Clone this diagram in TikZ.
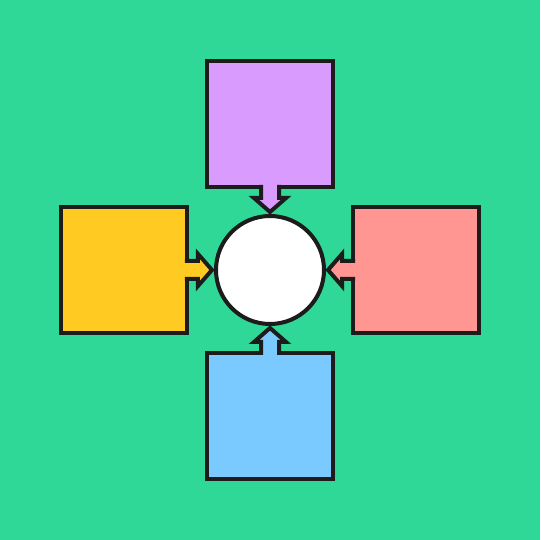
\documentclass[tikz,border=0pt]{standalone}
\usetikzlibrary{calc}
\definecolor{meadow}{RGB}{47,216,151}
\definecolor{lilac}{RGB}{218,155,255}
\definecolor{sunflower}{RGB}{255,203,34}
\definecolor{salmon}{RGB}{255,150,145}
\definecolor{sky}{RGB}{122,202,255}
\definecolor{ink}{RGB}{28,28,28}
\newcommand\DrawArrow[3]{
	\coordinate (s) at ($(#1)!-2pt!(#2)$);
	\coordinate (h) at ($(#2)!18pt!(#1)$);
	\filldraw [arrowline, fill=#3]
		($(s)!9pt!90:(#2)$) -- ($(h)!9pt!90:(#2)$) -- ($(h)!16pt!90:(#2)$)
		-- ($(#2)!4pt!(#1)$)
		-- ($(h)!16pt!-90:(#2)$) -- ($(h)!9pt!-90:(#2)$) -- ($(s)!9pt!-90:(#2)$);
}
\newcommand*{\boxSize}{126pt}
\newcommand*{\boxDist}{146}

\begin{document}
\begin{tikzpicture}[x=1pt, y=1pt,
	every node/.style={draw=ink, line width=4pt, outer sep=0pt, inner sep=0pt},
	box/.style={minimum size=\boxSize},
	arrowline/.style={draw=ink, line width=4pt, line join=miter}]
	\fill [meadow] (-270,-270) rectangle (270,270);
	\node [circle, minimum size=108pt, fill=white] (hub) at (0,0) {};
	\node [box, fill=lilac] (boxTop) at (0,\boxDist) {};
	\node [box, fill=sunflower] (boxLeft) at (-\boxDist,0) {};
	\node [box, fill=salmon] (boxRight) at (\boxDist,0) {};
	\node [box, fill=sky] (boxBottom) at (0,-\boxDist) {};
	\foreach \f/\t/\c in {boxTop.south/hub.north/lilac, boxLeft.east/hub.west/sunflower,
		boxRight.west/hub.east/salmon, boxBottom.north/hub.south/sky}
	{
		\DrawArrow{\f}{\t}{\c}
	}
\end{tikzpicture}
\end{document}
